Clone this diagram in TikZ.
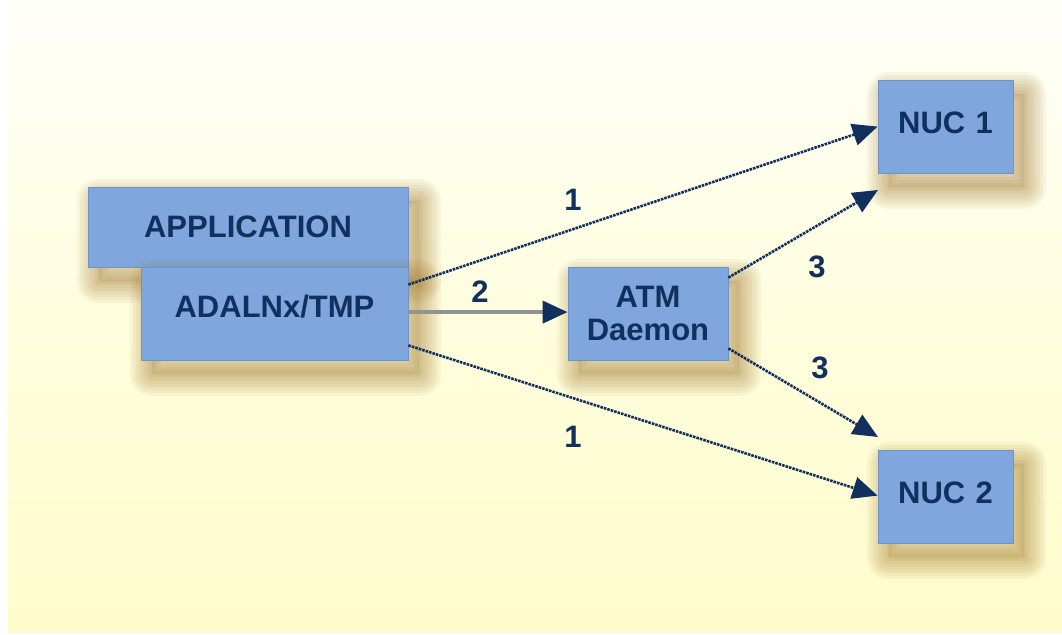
\documentclass[tikz,border=0pt]{standalone}
\usepackage{fontspec}
\setmainfont{Liberation Sans}
\usetikzlibrary{arrows.meta,calc}
\definecolor{bgtop}{HTML}{FFFFFA}
\definecolor{bgbot}{HTML}{FFFCCB}
\definecolor{boxfill}{HTML}{7FA7DE}
\definecolor{boxline}{HTML}{6F93C8}
\definecolor{navy}{HTML}{12305E}
\definecolor{grayline}{HTML}{8F9590}
\definecolor{shc}{HTML}{9A7020}
\tikzset{
  shlayer/.style={draw=shc, line join=round, draw opacity=0.065,
    line width=#1, transform canvas={xshift=11pt,yshift=-14pt}},
  boxshadow/.style={
    preaction={fill=shc, fill opacity=0.12, transform canvas={xshift=11pt,yshift=-14pt}},
    preaction={shlayer=44pt},
    preaction={shlayer=38pt},
    preaction={shlayer=32pt},
    preaction={shlayer=26pt},
    preaction={shlayer=20pt},
    preaction={shlayer=14pt},
    preaction={shlayer=8pt},
    preaction={shlayer=3pt}},
  blockbox/.style={draw=boxline, line width=0.8pt, fill=boxfill, boxshadow,
    text=navy, font=\bfseries\fontsize{31}{35}\selectfont, align=center,
    inner sep=0pt},
  numlabel/.style={text=navy, font=\bfseries\fontsize{31}{35}\selectfont, inner sep=0pt},
  flow/.style={draw=navy, line width=2.6pt, dash pattern=on 2.6pt off 1pt,
    -{Triangle[length=25pt,width=22pt]}},
  mainflow/.style={draw=grayline, line width=4pt,
    -{Triangle[length=25pt,width=22pt,color=navy]}}
}
\begin{document}
\begin{tikzpicture}[x=1pt,y=-1pt]
\useasboundingbox (0,0) rectangle (1062,634);
\shade[top color=bgtop, bottom color=bgbot, middle color=bgbot!60!bgtop, shading angle=0]
  (8,0) rectangle (1062,632);
% boxes
\node[blockbox, minimum width=320pt, minimum height=80pt] (app) at (248,227) {APPLICATION};
\node[blockbox, minimum width=267pt, text height=50pt, text depth=43pt, text width=267pt] (adal) at (274.5,313.5) {ADALNx/TMP};
\node[blockbox, minimum width=160pt, minimum height=93pt] (atm) at (648,313.5) {ATM\\[-2pt]Daemon};
\node[blockbox, minimum width=135pt, text height=53pt, text depth=40pt, text width=135pt] (nuc1) at (945.5,126.5) {NUC 1};
\node[blockbox, minimum width=135pt, text height=53pt, text depth=40pt, text width=135pt] (nuc2) at (945.5,496.5) {NUC 2};
% free ends
\coordinate (e1) at (878,190);
\coordinate (e2) at (878,437);
% connectors
\draw[flow] ([yshift=-18pt]adal.north east) -- ([yshift=-47pt]nuc1.north west);
\draw[mainflow] ([yshift=-45.5pt]adal.north east) -- ([yshift=-45.5pt]atm.north west);
\draw[flow] ([yshift=15pt]adal.south east) -- ([yshift=-46pt]nuc2.north west);
\draw[flow] ([yshift=-11pt]atm.north east) -- (e1);
\draw[flow] ([yshift=12pt]atm.south east) -- (e2);
% labels
\node[numlabel] (l1a) at (573,200) {1};
\node[numlabel] (l2) at (480,292) {2};
\node[numlabel] (l3a) at (817,267) {3};
\node[numlabel] (l3b) at (820,368) {3};
\node[numlabel] (l1b) at (573,437) {1};
\end{tikzpicture}
\end{document}
